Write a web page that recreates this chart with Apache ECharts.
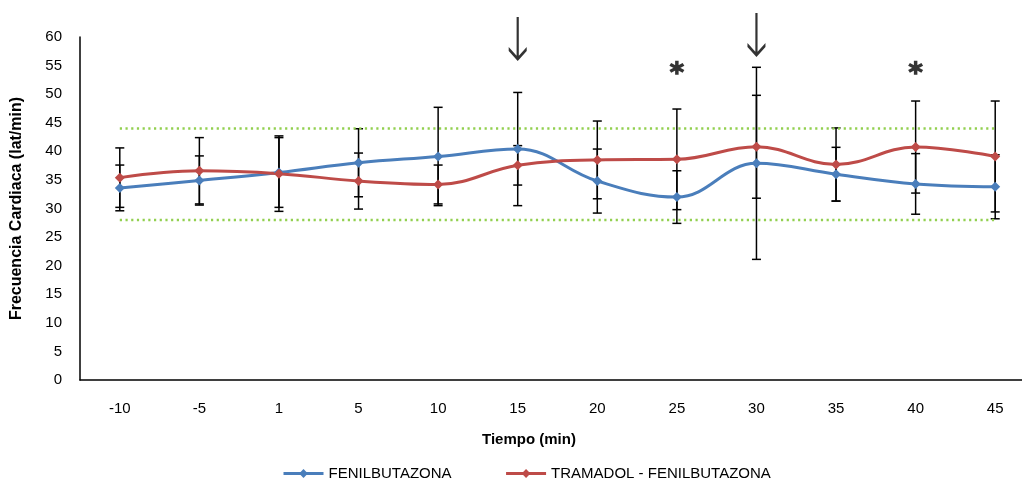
<!DOCTYPE html>
<html>
<head>
<meta charset="utf-8">
<script src="https://cdn.jsdelivr.net/npm/echarts@6/dist/echarts.min.js"></script>
<style>
  html, body { margin: 0; padding: 0; background: #fff; }
  #chart { width: 1022px; height: 479px; }
</style>
</head>
<body>
<div id="chart"></div>
<script>
// datos
var tiempos = ['-10', '-5', '1', '5', '10', '15', '20', '25', '30', '35', '40', '45']
var fenil = [33.6, 34.9, 36.3, 38.0, 39.1, 40.4, 34.8, 32.0, 37.9, 36.0, 34.3, 33.8]
var fenilErr = [4.0, 4.3, 6.1, 5.95, 8.6, 9.9, 5.6, 4.6, 16.8, 4.7, 5.3, 5.6]
var tram = [35.4, 36.6, 36.1, 34.8, 34.2, 37.55, 38.5, 38.6, 40.8, 37.7, 40.75, 39.1]
var tramErr = [5.2, 5.8, 6.6, 4.9, 3.4, 3.45, 6.8, 8.8, 9.0, 6.4, 8.05, 9.7]
var limiteSup = 44
var limiteInf = 28
var flechaTiempos = ['15', '30']
var flechaPunta = [55.8, 56.5]
var asteriscoTiempos = ['25', '40']
var asteriscoNivel = [54.6, 54.6]

var FONT = '"Liberation Sans", Arial, sans-serif'
var AZUL = '#4A7EBB'
var ROJO = '#BE4B48'
var VERDE = '#92D050'

var FLECHA = 'path://M7.9,0L10.1,0L10.1,40L7.9,40Z M0,30L9,40L18,30L18,34L9,44L0,34Z'
var ASTERISCO = 'path://M5.4,0L8.6,0L8.6,14L5.4,14Z M1.75,2.1L13.85,9.1L12.25,11.9L0.15,4.9Z M0.15,9.1L12.25,2.1L13.85,4.9L1.75,11.9Z'

function barras (valores, errores) {
  return valores.map(function (v, i) {
    return [i, v - errores[i], v + errores[i]]
  })
}

function renderBarra (params, api) {
  var lo = api.coord([api.value(0), api.value(1)])
  var hi = api.coord([api.value(0), api.value(2)])
  var w = 4.5
  var estilo = { stroke: '#000', lineWidth: 1.5 }
  return {
    type: 'group',
    children: [
      { type: 'line', shape: { x1: lo[0], y1: lo[1], x2: hi[0], y2: hi[1] }, style: estilo },
      { type: 'line', shape: { x1: lo[0] - w, y1: lo[1], x2: lo[0] + w, y2: lo[1] }, style: estilo },
      { type: 'line', shape: { x1: hi[0] - w, y1: hi[1], x2: hi[0] + w, y2: hi[1] }, style: estilo }
    ]
  }
}

function lineaLimite (nombre, valor) {
  return {
    name: nombre,
    type: 'line',
    data: tiempos.map(function () { return valor }),
    symbol: 'none',
    silent: true,
    z: 1,
    lineStyle: { color: VERDE, width: 2.5, type: [2.2, 3.5] }
  }
}

var chart = echarts.init(document.getElementById('chart'))
chart.setOption({
  animation: false,
  textStyle: { fontFamily: FONT },
  grid: { left: 80, top: 37, bottom: 99, right: -13, containLabel: false, outerBoundsMode: 'none' },
  legend: {
    data: ['FENILBUTAZONA', 'TRAMADOL - FENILBUTAZONA'],
    left: 277,
    top: 461,
    itemWidth: 40,
    itemHeight: 11,
    itemGap: 53,
    lineStyle: { width: 3 },
    textStyle: { fontFamily: FONT, fontSize: 15, color: '#000' }
  },
  graphic: [{
    type: 'text',
    x: 529,
    y: 440,
    style: {
      text: 'Tiempo (min)', fontFamily: FONT, fontSize: 15, fontWeight: 'bold', fill: '#000',
      align: 'center', verticalAlign: 'middle'
    }
  }],
  xAxis: {
    type: 'category',
    data: tiempos,
    boundaryGap: true,
    axisLine: { lineStyle: { color: '#000', width: 1.5 } },
    axisTick: { show: false },
    axisLabel: { color: '#000', fontSize: 15, fontFamily: FONT, margin: 21 }
  },
  yAxis: {
    type: 'value',
    min: 0,
    max: 60,
    interval: 5,
    name: 'Frecuencia Cardiaca (lat/min)',
    nameLocation: 'middle',
    nameGap: 55,
    nameTextStyle: { color: '#000', fontSize: 16, fontWeight: 'bold', fontFamily: FONT },
    axisLine: { show: true, lineStyle: { color: '#000', width: 1.5 } },
    axisTick: { show: false },
    splitLine: { show: false },
    axisLabel: { color: '#000', fontSize: 15, fontFamily: FONT, margin: 18 }
  },
  series: [
    lineaLimite('limite superior', limiteSup),
    lineaLimite('limite inferior', limiteInf),
    {
      name: 'error fenil',
      type: 'custom',
      renderItem: renderBarra,
      data: barras(fenil, fenilErr),
      encode: { x: 0, y: [1, 2] },
      silent: true,
      z: 1
    },
    {
      name: 'error tram',
      type: 'custom',
      renderItem: renderBarra,
      data: barras(tram, tramErr),
      encode: { x: 0, y: [1, 2] },
      silent: true,
      z: 1
    },
    {
      name: 'FENILBUTAZONA',
      type: 'line',
      data: fenil,
      smooth: 0.4,
      symbol: 'diamond',
      symbolSize: 10,
      z: 3,
      itemStyle: { color: AZUL },
      lineStyle: { color: AZUL, width: 3 }
    },
    {
      name: 'TRAMADOL - FENILBUTAZONA',
      type: 'line',
      data: tram,
      smooth: 0.4,
      symbol: 'diamond',
      symbolSize: 10,
      z: 3,
      itemStyle: { color: ROJO },
      lineStyle: { color: ROJO, width: 3 }
    },
    {
      name: 'flechas',
      type: 'scatter',
      clip: false,
      silent: true,
      data: flechaTiempos.map(function (t, i) { return [t, flechaPunta[i]] }),
      symbol: FLECHA,
      symbolSize: [18, 44],
      symbolOffset: [0, '-50%'],
      itemStyle: { color: '#000' }
    },
    {
      name: 'asteriscos',
      type: 'scatter',
      clip: false,
      silent: true,
      data: asteriscoTiempos.map(function (t, i) { return [t, asteriscoNivel[i]] }),
      symbol: ASTERISCO,
      symbolSize: [15, 14],
      itemStyle: { color: '#000' }
    }
  ]
})
</script>
</body>
</html>
